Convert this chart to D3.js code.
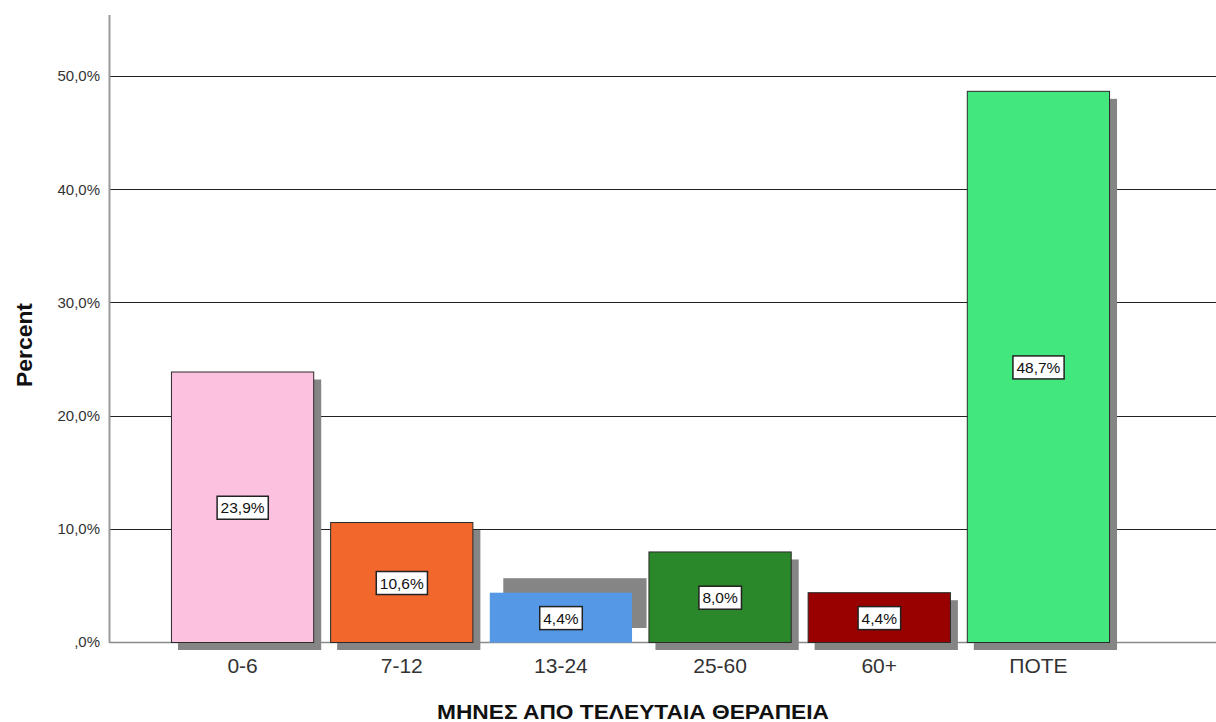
<!DOCTYPE html>
<html><head><meta charset="utf-8">
<script src="https://cdn.jsdelivr.net/npm/d3@7"></script>
<style>body{margin:0;background:#fff}svg{display:block;font-family:"Liberation Sans",Arial,sans-serif}</style>
</head><body><svg id="c" width="1216" height="722"></svg>
<script>
const categories = ["0-6","7-12","13-24","25-60","60+","ΠΟΤΕ"];
const percents = [23.9,10.6,4.4,8.0,4.4,48.7];
const valueLabels = ["23,9%","10,6%","4,4%","8,0%","4,4%","48,7%"];
const yTicks = [0,10,20,30,40,50];
const yTickLabels = [",0%","10,0%","20,0%","30,0%","40,0%","50,0%"];
const colors = ["#FDC1E0","#F2682C","#5599E6","#2A872A","#990000","#42E87E"];
const xTitle = "ΜΗΝΕΣ ΑΠΟ ΤΕΛΕΥΤΑΙΑ ΘΕΡΑΠΕΙΑ";
const yTitle = "Percent";

(function(){
const svg = d3.select("#c");
const pL = 109, pR = 1216, pT = 15, pB = 642;
const y = d3.scaleLinear().domain([0,55.4]).range([pB, pT]);
const x = d3.scaleBand().domain(categories).range([163,1118]).paddingInner(0.1).paddingOuter(0.05);

// gridlines
svg.append("g").selectAll("line").data(yTicks.filter(d=>d>0)).join("line")
  .attr("x1",pL).attr("x2",pR).attr("y1",d=>Math.round(y(d))+0.5).attr("y2",d=>Math.round(y(d))+0.5)
  .attr("stroke","#222").attr("stroke-width",1);

// y axis
const yAxis = d3.axisLeft(y).tickValues(yTicks).tickFormat((d,i)=>yTickLabels[i]).tickSize(0).tickPadding(9);
const gy = svg.append("g").attr("transform",`translate(${pL},0)`).call(yAxis);
gy.select(".domain").remove();
gy.selectAll("text").attr("font-size",15).attr("fill","#333").attr("font-family","Liberation Sans, Arial, sans-serif");

// baseline and axis line
svg.append("line").attr("x1",pL).attr("x2",pR).attr("y1",pB+0.5).attr("y2",pB+0.5).attr("stroke","#8a8a8a").attr("stroke-width",1.5);
svg.append("line").attr("x1",pL+0.5).attr("x2",pL+0.5).attr("y1",pT).attr("y2",pB+1).attr("stroke","#9a9a9a").attr("stroke-width",2);

// shadows
const shadowOff = categories.map(c => c==="13-24" ? [14,-14] : [7,8]);
svg.append("g").selectAll("rect").data(categories).join("rect")
  .attr("x",(d,i)=>x(d)+shadowOff[i][0])
  .attr("y",(d,i)=>y(percents[i])+shadowOff[i][1])
  .attr("width",x.bandwidth())
  .attr("height",(d,i)=>pB-y(percents[i]))
  .attr("fill","#858585");

// bars
svg.append("g").selectAll("rect").data(categories).join("rect")
  .attr("x",d=>x(d)+0.5)
  .attr("y",(d,i)=>y(percents[i])+0.5)
  .attr("width",x.bandwidth()-1)
  .attr("height",(d,i)=>pB-y(percents[i]))
  .attr("fill",(d,i)=>colors[i])
  .attr("stroke",d=>d==="13-24"?"none":"#2a2a2a").attr("stroke-width",1);

// value labels
const lg = svg.append("g").selectAll("g").data(categories).join("g")
  .attr("transform",(d,i)=>`translate(${x(d)+x.bandwidth()/2},${(y(percents[i])+pB)/2+1})`);
lg.append("text").text((d,i)=>valueLabels[i]).attr("text-anchor","middle").attr("dy","0.36em")
  .attr("font-size",15.5).attr("fill","#111").each(function(){
    const b=this.getBBox();
    d3.select(this.parentNode).insert("rect","text").attr("x",b.x-3.5).attr("y",-11.5).attr("width",b.width+7).attr("height",23)
      .attr("fill","#fff").attr("stroke","#222").attr("stroke-width",1.5);
  });

// x tick labels
svg.append("g").selectAll("text").data(categories).join("text")
  .attr("x",d=>x(d)+x.bandwidth()/2).attr("y",673).attr("text-anchor","middle")
  .attr("font-size",21).attr("fill","#333").text(d=>d);

// titles
svg.append("text").attr("x",633).attr("y",719).attr("text-anchor","middle").attr("font-size",21).attr("font-weight","bold").attr("fill","#111")
  .attr("textLength",392).attr("lengthAdjust","spacingAndGlyphs").text(xTitle);
svg.append("text").attr("transform","translate(32,345) rotate(-90)").attr("text-anchor","middle").attr("font-size",22).attr("font-weight","bold").attr("fill","#111")
  .attr("textLength",84).attr("lengthAdjust","spacingAndGlyphs").text(yTitle);
})();
</script></body></html>
